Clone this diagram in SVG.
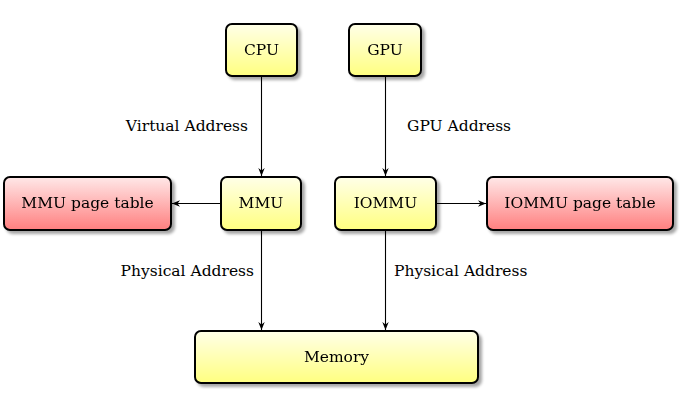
<svg xmlns="http://www.w3.org/2000/svg" width="681" height="405" viewBox="0 0 681 405">
<style>
.box{stroke:#000;stroke-width:2}
.y{fill:url(#gy)}
.r{fill:url(#gr)}
.t{font-family:"DejaVu Serif","Liberation Serif",serif;font-size:15.5px;fill:#000}
.c{stroke:#000;stroke-width:1.1;fill:none;marker-end:url(#ah)}
</style>
<defs>
<linearGradient id="gy" x1="0" y1="0" x2="0" y2="1">
<stop offset="0" stop-color="#ffffe8"/>
<stop offset="1" stop-color="#ffff80"/>
</linearGradient>
<linearGradient id="gr" x1="0" y1="0" x2="0" y2="1">
<stop offset="0" stop-color="#ffe8e8"/>
<stop offset="1" stop-color="#ff7f7f"/>
</linearGradient>
<filter id="sh" x="-10%" y="-10%" width="130%" height="140%">
<feGaussianBlur in="SourceAlpha" stdDeviation="1.5"/>
<feOffset dx="2.5" dy="2.5" result="b"/>
<feFlood flood-color="#000" flood-opacity="0.35"/>
<feComposite in2="b" operator="in"/>
<feMerge><feMergeNode/><feMergeNode in="SourceGraphic"/></feMerge>
</filter>
<marker id="ah" viewBox="0 0 10 10" refX="10" refY="5" markerWidth="8" markerHeight="8" markerUnits="userSpaceOnUse" orient="auto">
<path d="M0,1 L10,5 L0,9 L3,5 Z" fill="#000"/>
</marker>
</defs>
<g id="connectors">
<line class="c" x1="261.5" y1="77" x2="261.5" y2="176"/>
<line class="c" x1="385.5" y1="77" x2="385.5" y2="176"/>
<line class="c" x1="261.5" y1="231" x2="261.5" y2="330"/>
<line class="c" x1="385.5" y1="231" x2="385.5" y2="330"/>
<line class="c" x1="220" y1="203.5" x2="172" y2="203.5"/>
<line class="c" x1="437" y1="203.5" x2="486" y2="203.5"/>
<text class="t" x="248" y="131" text-anchor="end">Virtual Address</text>
<text class="t" x="407" y="131">GPU Address</text>
<text class="t" x="254" y="276" text-anchor="end">Physical Address</text>
<text class="t" x="394" y="276">Physical Address</text>
</g>
<g id="cpu" filter="url(#sh)">
<rect class="box y" x="226" y="24" width="71" height="52" rx="6"/>
<text class="t" x="261.5" y="55" text-anchor="middle">CPU</text>
</g>
<g id="gpu" filter="url(#sh)">
<rect class="box y" x="349" y="24" width="72" height="52" rx="6"/>
<text class="t" x="385" y="55" text-anchor="middle">GPU</text>
</g>
<g id="mmu-page-table" filter="url(#sh)">
<rect class="box r" x="4" y="177" width="167" height="53" rx="6"/>
<text class="t" x="87.5" y="208" text-anchor="middle">MMU page table</text>
</g>
<g id="mmu" filter="url(#sh)">
<rect class="box y" x="221" y="177" width="80" height="53" rx="6"/>
<text class="t" x="261" y="208" text-anchor="middle">MMU</text>
</g>
<g id="iommu" filter="url(#sh)">
<rect class="box y" x="335" y="177" width="101" height="53" rx="6"/>
<text class="t" x="385.5" y="208" text-anchor="middle">IOMMU</text>
</g>
<g id="iommu-page-table" filter="url(#sh)">
<rect class="box r" x="487" y="177" width="186" height="53" rx="6"/>
<text class="t" x="580" y="208" text-anchor="middle">IOMMU page table</text>
</g>
<g id="memory" filter="url(#sh)">
<rect class="box y" x="195" y="331" width="283" height="52" rx="6"/>
<text class="t" x="336.5" y="362" text-anchor="middle">Memory</text>
</g>
</svg>
